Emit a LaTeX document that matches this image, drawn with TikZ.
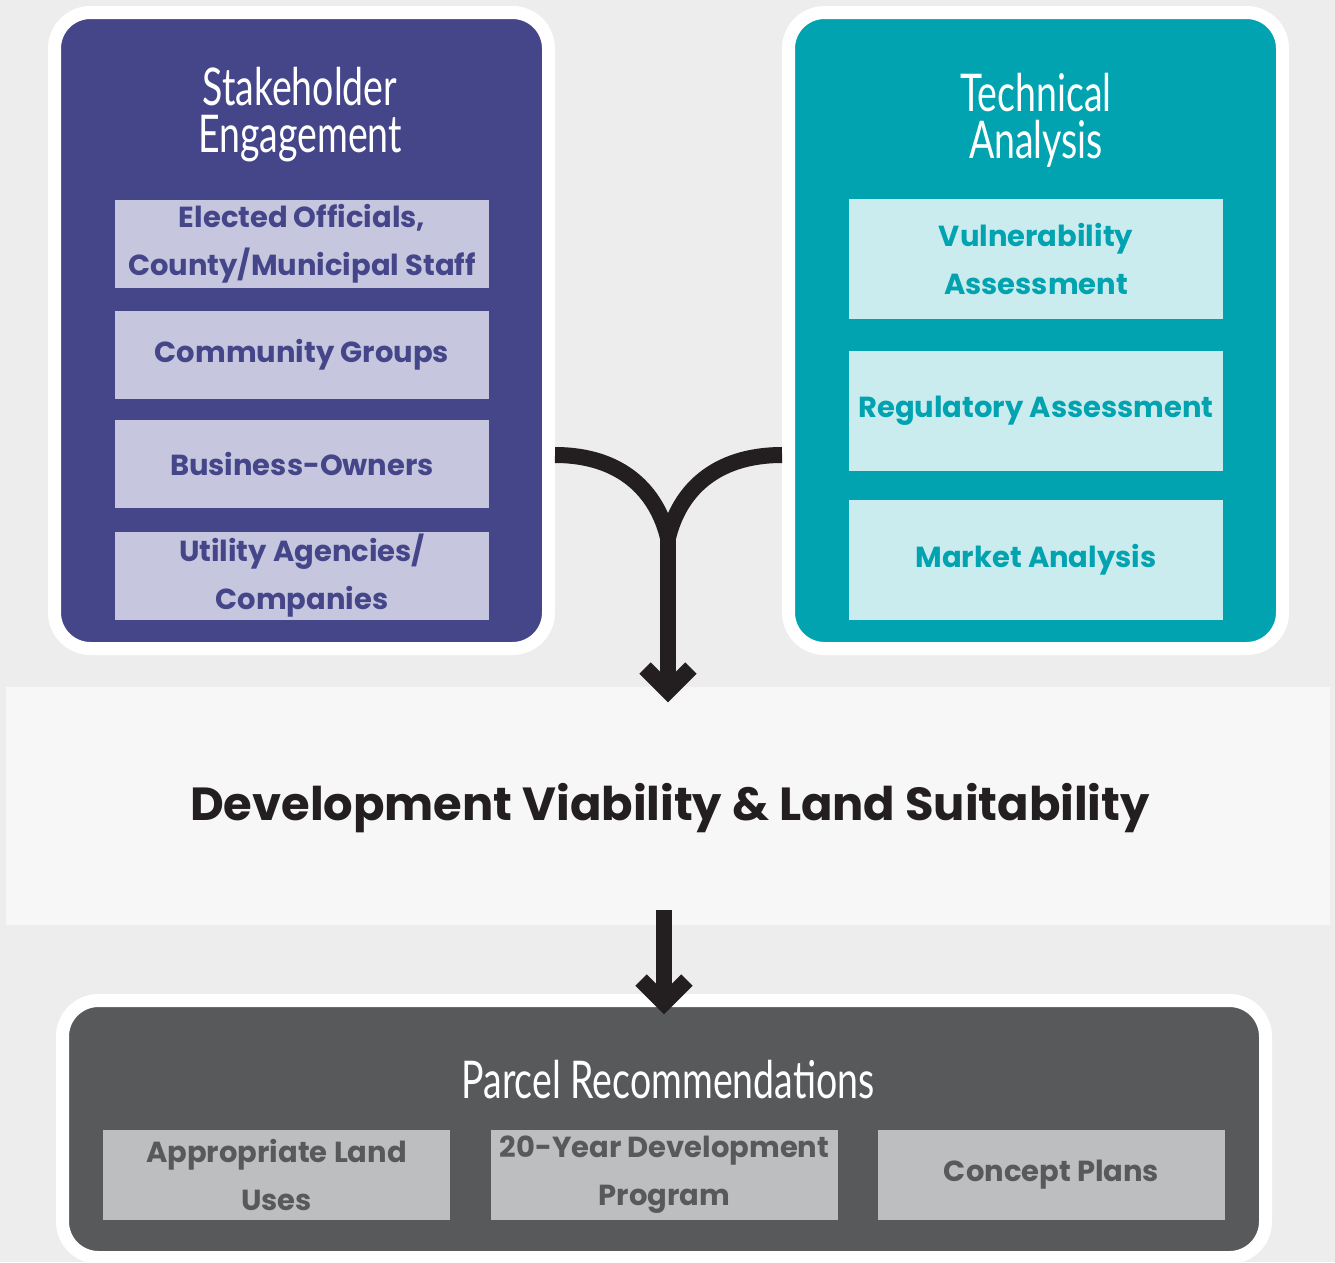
\documentclass[tikz,border=0pt]{standalone}
\usepackage{fontspec}
\setmainfont{Poppins}
\newfontfamily\titlefont[FakeStretch=0.72]{Lato}
\definecolor{bg}{HTML}{EDEDED}
\definecolor{band}{HTML}{F7F7F7}
\definecolor{purp}{HTML}{45458A}
\definecolor{lpurp}{HTML}{C6C6DE}
\definecolor{teal}{HTML}{00A3AF}
\definecolor{lteal}{HTML}{CBECEE}
\definecolor{dgray}{HTML}{58595B}
\definecolor{lgray}{HTML}{BCBEC0}
\definecolor{ink}{HTML}{231F20}
\tikzset{
  card/.style={draw=white, line width=13pt, rounded corners=36pt, inner sep=0pt, rectangle},
  title/.style={text=white, align=center, font=\titlefont\fontsize{52}{47}\selectfont},
  sub/.style={rectangle, inner sep=0pt, minimum width=374pt, align=center, font=\bfseries\fontsize{29}{48}\selectfont},
  pbox/.style={sub, fill=lpurp, text=purp, minimum height=88pt},
  tbox/.style={sub, fill=lteal, text=teal, minimum height=120pt},
  gbox/.style={sub, fill=lgray, text=dgray, minimum width=347pt, minimum height=90pt},
  conn/.style={draw=ink, line width=16pt},
  chev/.style={draw=ink, line width=16pt, line join=miter, miter limit=10}
}
\begin{document}
\begin{tikzpicture}[x=1pt,y=-1pt]
\useasboundingbox (0,0) rectangle (1335,1262);
\clip (0,0) rectangle (1335,1262);
\fill[bg] (0,0) rectangle (1335,1262);
% cards
\node[card, fill=purp, minimum width=494pt, minimum height=636pt] (stake) at (301.5,330.5) {};
\node[card, fill=teal, minimum width=494pt, minimum height=636pt] (tech) at (1035.5,330.5) {};
\node[title] (stakeT) at (300,115) {Stakeholder\\Engagement};
\node[title] (techT) at (1036,120) {Technical\\Analysis};
\node[pbox] (p1) at (302,244) {Elected Officials,\\County/Municipal Staff};
\node[pbox] (p2) at (302,355) {Community Groups};
\node[pbox] (p3) at (302,464) {Business-Owners};
\node[pbox] (p4) at (302,576) {Utility Agencies/\\Companies};
\node[tbox] (t1) at (1036,259) {Vulnerability\\Assessment};
\node[tbox] (t2) at (1036,411) {Regulatory Assessment};
\node[tbox] (t3) at (1036,560) {Market Analysis};
% band
\node[rectangle, fill=band, inner sep=0pt, minimum width=1324pt, minimum height=238pt] (band) at (668,806) {};
\node[font=\bfseries\fontsize{46.4}{50}\selectfont, text=ink] (bandT) at (670,808) {Development Viability \& Land Suitability};
% bottom card
\node[card, fill=dgray, minimum width=1203pt, minimum height=257pt] (parcel) at (664,1129) {};
\node[title] (parcelT) at (668,1080) {Parcel Recommendations};
\node[gbox] (g1) at (276.5,1175) {Appropriate Land\\Uses};
\node[gbox] (g2) at (664.5,1175) {20-Year Development\\Program};
\node[gbox] (g3) at (1051.5,1175) {Concept Plans};
% connectors
\coordinate (lstart) at (stake.east |- 0,455);
\coordinate (rstart) at (tech.west |- 0,455);
\coordinate (j) at (668,538);
\coordinate (tipA) at (668,691);
\draw[conn] (lstart) .. controls (622,455) and (657,492) .. (j);
\draw[conn] (rstart) .. controls (714,455) and (679,492) .. (j);
\draw[conn] (j) -- (tipA);
\draw[chev] (645,668) -- (tipA) -- (691,668);
\coordinate (sB) at (664,910);
\coordinate (tipB) at (664,1003);
\draw[conn] (sB) -- (tipB);
\draw[chev] (641,980) -- (tipB) -- (687,980);
\end{tikzpicture}
\end{document}
